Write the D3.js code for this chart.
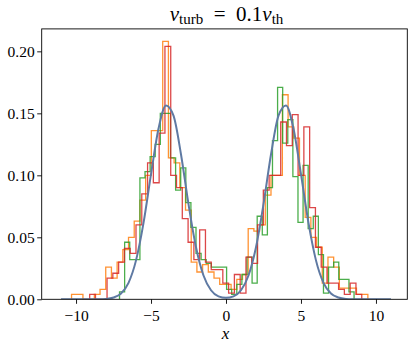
<!DOCTYPE html>
<html>
<head>
<meta charset="utf-8">
<script src="https://cdn.jsdelivr.net/npm/d3@7"></script>
<style>
	body { margin: 0; background: #fff; }
	svg { display: block; }
	text { font-family: "Liberation Serif", "Times New Roman", serif; fill: #000; }
</style>
</head>
<body>
<div id="vis"></div>
<script>
const WIDTH = 415
const HEIGHT = 351

// histogram samples (density), each series has its own bin edges
const orangeStart = -10.30
const orangeWidth = 0.38
const orangeHeights = [
	0.004, 0.004, 0, 0, 0.004, 0.008, 0.026, 0.017, 0.030, 0.040,
	0.050, 0.063, 0.080, 0.100, 0.136, 0.136, 0.208, 0.114, 0.110, 0.090,
	0.072, 0.030, 0.022, 0.028, 0.022, 0.017, 0.012, 0.012, 0.008, 0.016,
	0.020, 0.057, 0.055, 0.060, 0.084, 0.100, 0.100, 0.165, 0.139, 0.130,
	0.100, 0.066, 0.050, 0.042, 0.013, 0.034, 0.026, 0.009, 0.009, 0.009,
	0.004, 0.004
]

const greenStart = -7.10
const greenWidth = 0.34
const greenHeights = [
	0.006, 0.046, 0.032, 0.032, 0.098, 0.103, 0.115, 0.125, 0.150, 0.150,
	0.114, 0.088, 0.106, 0.078, 0.058, 0.037, 0.032, 0.029, 0.026, 0.026,
	0.026, 0.008, 0.004, 0.012, 0.020, 0.034, 0.013, 0.067, 0.052, 0.090,
	0.128, 0.171, 0.126, 0.145, 0.099, 0.062, 0.108, 0.057, 0.067, 0.036,
	0.005, 0.026, 0.030, 0.016, 0.016, 0.006
]

const redStart = -9.09
const redWidth = 0.386
const redHeights = [
	0.004, 0, 0, 0.017, 0.021, 0.030, 0.041, 0.037, 0.060, 0.085,
	0.110, 0.094, 0.134, 0.204, 0.100, 0.090, 0.065, 0.046, 0.032, 0.056,
	0.030, 0.024, 0.024, 0.013, 0.005, 0.020, 0.005, 0.034, 0.029, 0.060,
	0.088, 0.100, 0.100, 0.143, 0.124, 0.149, 0.100, 0.139, 0.074, 0.042,
	0.026, 0.013, 0.013, 0.008, 0.004, 0.013, 0.004
]

// model curve, read every 0.5 from -11 to 11
const curveX = d3.range(-11, 11.001, 0.5)
const curveY = [
	0, 0, 0, 0, 0.00001, 0.00007, 0.0003, 0.0014, 0.0047, 0.0133,
	0.0314, 0.0616, 0.1009, 0.1377, 0.1564, 0.1481, 0.1168, 0.0767, 0.0420, 0.0192,
	0.0073, 0.0024, 0.0012, 0.0024, 0.0073, 0.0192, 0.0420, 0.0767, 0.1168, 0.1481,
	0.1564, 0.1377, 0.1009, 0.0616, 0.0314, 0.0133, 0.0047, 0.0014, 0.0003, 0.00007,
	0.00001, 0, 0, 0, 0
]

const xTicks = [-10, -5, 0, 5, 10]
const yTicks = [0, 0.05, 0.10, 0.15, 0.20]

const series = [
	{ start: orangeStart, width: orangeWidth, heights: orangeHeights, color: '#ff7f0e' },
	{ start: greenStart, width: greenWidth, heights: greenHeights, color: '#2ca02c' },
	{ start: redStart, width: redWidth, heights: redHeights, color: '#d62728' }
]

const plotLeft = 41.7, plotRight = 407.3, plotTop = 28.9, plotBottom = 299.3

let x = d3.scaleLinear().domain([-12.29, 12.09]).range([plotLeft, plotRight])
let y = d3.scaleLinear().domain([0, 0.2181]).range([plotBottom, plotTop])

let svg = d3.select('#vis')
	.append('svg')
	.attr('width', WIDTH)
	.attr('height', HEIGHT)

let clip = svg.append('clipPath').attr('id', 'plot-clip')
clip.append('rect')
	.attr('x', plotLeft).attr('y', plotTop)
	.attr('width', plotRight - plotLeft).attr('height', plotBottom - plotTop)

let plot = svg.append('g').attr('clip-path', 'url(#plot-clip)')

// step outline like histtype='step'
function stepPoints(s) {
	let pts = [[s.start, 0]]
	s.heights.forEach((h, i) => {
		let x0 = s.start + i * s.width
		pts.push([x0, h])
		pts.push([x0 + s.width, h])
	})
	pts.push([s.start + s.heights.length * s.width, 0])
	return pts
}

let line = d3.line()
	.x(d => x(d[0]))
	.y(d => y(d[1]))

plot.selectAll('.hist')
	.data(series)
	.enter()
	.append('path')
	.attr('class', 'hist')
	.attr('d', d => line(stepPoints(d)))
	.attr('fill', 'none')
	.attr('stroke', d => d.color)
	.attr('stroke-width', 1.3)
	.attr('stroke-opacity', 0.85)
	.attr('stroke-linejoin', 'miter')

let curveLine = d3.line()
	.x(d => x(d[0]))
	.y(d => y(d[1]))
	.curve(d3.curveMonotoneX)

plot.append('path')
	.attr('d', curveLine(curveX.map((v, i) => [v, curveY[i]])))
	.attr('fill', 'none')
	.attr('stroke', '#5f7aa3')
	.attr('stroke-width', 2)

// frame
svg.append('rect')
	.attr('x', plotLeft).attr('y', plotTop)
	.attr('width', plotRight - plotLeft).attr('height', plotBottom - plotTop)
	.attr('fill', 'none')
	.attr('stroke', '#000')
	.attr('stroke-width', 0.9)

let minus = d => d < 0 ? '\u2212' + Math.abs(d) : '' + d

let xAxis = svg.append('g')
	.attr('transform', `translate(0,${plotBottom})`)
	.call(d3.axisBottom(x).tickValues(xTicks).tickFormat(minus).tickSize(4.5).tickPadding(6))
xAxis.select('.domain').remove()
xAxis.selectAll('.tick line').attr('stroke', '#000').attr('stroke-width', 0.9)
xAxis.selectAll('.tick text')
	.attr('fill', '#000')
	.style('font-size', '15.5px')
	.style('font-family', '"Liberation Serif", serif')

let yAxis = svg.append('g')
	.attr('transform', `translate(${plotLeft},0)`)
	.call(d3.axisLeft(y).tickValues(yTicks).tickFormat(d3.format('.2f')).tickSize(4.5).tickPadding(2.5))
yAxis.select('.domain').remove()
yAxis.selectAll('.tick line').attr('stroke', '#000').attr('stroke-width', 0.9)
yAxis.selectAll('.tick text')
	.attr('fill', '#000')
	.style('font-size', '15.5px')
	.style('font-family', '"Liberation Serif", serif')

// x label
svg.append('text')
	.attr('x', (plotLeft + plotRight) / 2 + 1)
	.attr('y', 339.3)
	.attr('text-anchor', 'middle')
	.style('font-size', '17px')
	.style('font-style', 'italic')
	.text('x')

// title
let title = svg.append('text')
	.attr('x', 226.5)
	.attr('y', 20.7)
	.attr('text-anchor', 'middle')
	.style('font-size', '21px')
title.append('tspan').style('font-style', 'italic').text('v')
title.append('tspan').attr('dy', 3.5).style('font-size', '15px').text('turb')
title.append('tspan').attr('dy', -3.5).text('\u2002=\u20020.1')
title.append('tspan').style('font-style', 'italic').text('v')
title.append('tspan').attr('dy', 3.5).style('font-size', '15px').text('th')
</script>
</body>
</html>
